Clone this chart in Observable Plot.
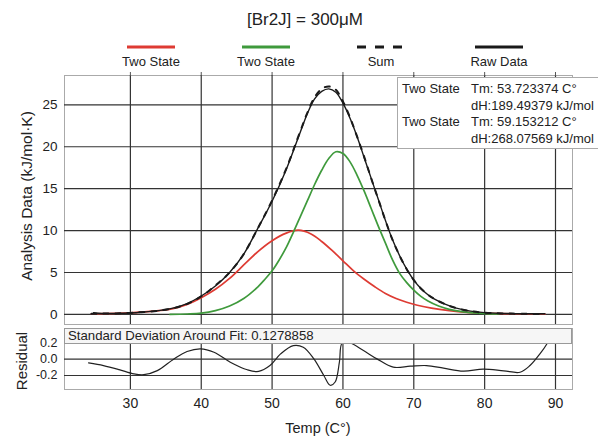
<!DOCTYPE html>
<html><head><meta charset="utf-8">
<script src="https://cdn.jsdelivr.net/npm/d3@7"></script>
<script src="https://cdn.jsdelivr.net/npm/@observablehq/plot@0.6"></script>
<style>
body{margin:0;background:#fff;font-family:"Liberation Sans",Arial,Helvetica,sans-serif;color:#222;}
#wrap{position:relative;width:598px;height:440px;overflow:hidden;}
.abs{position:absolute;white-space:nowrap;}
#main,#resid{position:absolute;left:0;}
#main{top:0;} #resid{top:324px;}
</style></head><body><div id="wrap">
<div id="main"></div><div id="resid"></div>
</div>
<script>
// ---- data ----
const title = "[Br2J] = 300\u03bcM";
const legendLabels = ["Two State", "Two State", "Sum", "Raw Data"];
const xTicks = [30, 40, 50, 60, 70, 80, 90];
const yTicks = [0, 5, 10, 15, 20, 25];
const residTicks = [-0.2, 0.0, 0.2];
const infoLines = [
  ["Two State", "Tm: 53.723374 C\u00b0"],
  ["", "dH:189.49379 kJ/mol"],
  ["Two State", "Tm: 59.153212 C\u00b0"],
  ["", "dH:268.07569 kJ/mol"]
];
const stdText = "Standard Deviation Around Fit: 0.1278858";

const redT = [24.5, 28, 30, 32, 34, 36, 38, 40, 42, 44, 46, 48, 50, 52, 53.7, 55.5, 57, 58.5, 60, 61.5, 63, 64.5, 66, 67.5, 69, 70.5, 72.5, 75, 77.5, 80, 84, 88.5];
const redV = [0.08, 0.12, 0.18, 0.3, 0.45, 0.7, 1.2, 2.0, 3.0, 4.3, 5.9, 7.5, 8.8, 9.7, 10.05, 9.6, 8.7, 7.6, 6.4, 5.2, 4.2, 3.3, 2.5, 1.9, 1.45, 1.1, 0.75, 0.45, 0.25, 0.15, 0.08, 0.05];

const greenT = [35.6, 38, 40, 42, 44, 46, 48, 49, 50, 51, 52, 53, 54, 55, 56, 57, 58, 59, 60, 61, 62, 63, 64, 65, 66, 67, 68, 69, 70, 71, 72, 73.5, 75, 77, 79, 82];
const greenV = [0, 0.05, 0.15, 0.45, 1.0, 1.9, 3.3, 4.2, 5.2, 6.5, 8.0, 9.8, 11.7, 13.6, 15.5, 17.2, 18.6, 19.4, 19.2, 18.2, 16.6, 14.7, 12.6, 10.5, 8.5, 6.5, 4.9, 3.8, 2.9, 2.15, 1.6, 1.0, 0.6, 0.3, 0.15, 0.05];

const rawT = [24.8, 26, 28, 30, 32, 34, 36, 38, 40, 42, 44, 46, 48, 50, 52, 54, 55, 56, 57, 58, 59, 60, 61, 62, 63, 64, 65, 66, 67, 68, 69, 70, 71, 72, 73, 74.5, 76, 78, 80, 84, 88.5];
const rawV = [0.2, 0.12, 0.12, 0.18, 0.3, 0.45, 0.75, 1.3, 2.2, 3.4, 5.0, 7.2, 10.3, 13.5, 17.3, 21.8, 24.0, 25.7, 26.6, 26.9, 26.5, 25.2, 23.4, 21.2, 18.7, 16.2, 13.7, 11.2, 8.9, 7.0, 5.4, 4.1, 3.1, 2.35, 1.8, 1.2, 0.75, 0.4, 0.22, 0.1, 0.08];

const sumT = [24.5, 26, 28, 30, 32, 34, 36, 38, 40, 42, 44, 46, 48, 50, 52, 54, 55, 56, 57, 58, 59, 60, 61, 62, 63, 64, 65, 66, 67, 68, 69, 70, 71, 72, 73, 74.5, 76, 78, 80, 84, 88.5];
const sumV = [0.08, 0.1, 0.12, 0.18, 0.3, 0.45, 0.72, 1.25, 2.15, 3.45, 5.0, 7.2, 10.3, 13.6, 17.4, 21.9, 24.1, 25.9, 26.9, 27.2, 26.8, 25.4, 23.5, 21.2, 18.8, 16.2, 13.7, 11.2, 8.9, 7.0, 5.4, 4.1, 3.1, 2.35, 1.8, 1.2, 0.75, 0.4, 0.2, 0.1, 0.05];

const resT = [24.1, 26.2, 28.4, 30.5, 31.9, 33.8, 36.1, 38.0, 39.9, 41.8, 44.1, 46.5, 48.1, 49.7, 51.2, 53.0, 54.4, 55.9, 57.3, 58.2, 58.9, 59.5, 59.9, 61.0, 62.9, 64.8, 67.1, 69.5, 71.8, 74.2, 77.0, 79.8, 82.7, 85.0, 86.4, 87.8, 88.8, 89.3];
const resV = [-0.045, -0.078, -0.127, -0.18, -0.19, -0.14, 0.0, 0.094, 0.127, 0.086, -0.037, -0.13, -0.15, -0.078, 0.065, 0.167, 0.147, 0.004, -0.2, -0.32, -0.28, -0.037, 0.2, 0.2, 0.106, 0.004, -0.098, -0.086, -0.078, -0.11, -0.147, -0.122, -0.143, -0.16, -0.078, 0.065, 0.19, 0.28];

const colors = ["#de3b33", "#3f9a3c", "#1a1a1a", "#1a1a1a"];

// ---- build ----
const rows = (T, V) => T.map((t, i) => ({T: t, V: V[i]}));
const FONT = '"Liberation Sans", Arial, Helvetica, sans-serif';
const xDomain = [20.7, 92.4];
const gridStyle = {stroke: "#333", strokeOpacity: 1, strokeWidth: 1.2};
const CURVE = "catmull-rom";

const main = Plot.plot({
  width: 598, height: 326,
  marginLeft: 64, marginRight: 26, marginTop: 75, marginBottom: 2,
  x: {domain: xDomain, axis: null},
  y: {domain: [-1.2, 28.5], axis: null},
  style: {fontFamily: FONT, fontSize: "13.5px", color: "#222", background: "transparent"},
  marks: [
    Plot.frame({stroke: "#aaa"}),
    Plot.gridX(xTicks, gridStyle),
    Plot.gridY(yTicks, gridStyle),
    Plot.axisY(yTicks, {tickSize: 0, tickPadding: 7, label: null}),
    Plot.axisX(xTicks, {anchor: "top", tickSize: 4, tickFormat: () => "", label: null, stroke: "#555"}),
    Plot.line(rows(redT, redV), {x: "T", y: "V", stroke: colors[0], strokeWidth: 1.7, curve: CURVE}),
    Plot.line(rows(greenT, greenV), {x: "T", y: "V", stroke: colors[1], strokeWidth: 1.7, curve: CURVE}),
    Plot.line(rows(rawT, rawV), {x: "T", y: "V", stroke: colors[3], strokeWidth: 1.4, curve: CURVE}),
    Plot.line(rows(sumT, sumV), {x: "T", y: "V", stroke: colors[2], strokeWidth: 2, strokeDasharray: "5,7", curve: CURVE})
  ]
});
document.getElementById("main").appendChild(main);

const resid = Plot.plot({
  width: 598, height: 116,
  marginLeft: 64, marginRight: 26, marginTop: 4, marginBottom: 51,
  x: {domain: xDomain, axis: null},
  y: {domain: [-0.372, 0.377], axis: null},
  style: {fontFamily: FONT, fontSize: "13.5px", color: "#222", background: "transparent"},
  marks: [
    Plot.frame({stroke: "#aaa"}),
    Plot.gridX(xTicks, gridStyle),
    Plot.gridY(residTicks, gridStyle),
    Plot.axisY(residTicks, {tickSize: 0, tickPadding: 7, label: null, tickFormat: d => d.toFixed(1), fontSize: 12.5}),
    Plot.axisX(xTicks, {tickSize: 0, tickPadding: 9, label: null, fontSize: 14}),
    Plot.line(rows(resT, resV), {x: "T", y: "V", stroke: "#222", strokeWidth: 1.2, curve: CURVE, clip: true})
  ]
});
document.getElementById("resid").appendChild(resid);

// ---- text overlays ----
const wrap = document.getElementById("wrap");
function addDiv(html, css) {
  const d = document.createElement("div");
  d.className = "abs";
  d.innerHTML = html;
  Object.assign(d.style, css);
  wrap.appendChild(d);
  return d;
}
addDiv(title, {left: "0px", width: "610px", top: "10px", textAlign: "center", fontSize: "17px"});

const legendX = [151, 266, 381, 499];
legendLabels.forEach((lab, i) => {
  const dash = i === 2 ? 'stroke-dasharray="9,9"' : "";
  addDiv(`<svg width="48" height="6"><line x1="0" y1="3" x2="48" y2="3" stroke="${colors[i]}" stroke-width="3" ${dash}/></svg>`,
    {left: (legendX[i] - 24) + "px", top: "44px", lineHeight: "0"});
  addDiv(lab, {left: (legendX[i] - 50) + "px", width: "100px", top: "54px", textAlign: "center", fontSize: "13px"});
});

const box = addDiv("", {left: "397px", top: "77px", width: "215px", height: "70px", border: "1px solid #aaa", background: "#fff", fontSize: "13px"});
infoLines.forEach((ln, i) => {
  const r = document.createElement("div");
  r.style.position = "absolute"; r.style.top = (3 + i * 16.5) + "px"; r.style.left = "4px";
  r.innerHTML = `<span style="display:inline-block;width:69px">${ln[0]}</span>${ln[1]}`;
  box.appendChild(r);
});

addDiv(stdText, {left: "64px", top: "328px", width: "503px", height: "14px", lineHeight: "14px", paddingLeft: "3px",
  border: "1px solid #999", background: "#f6f6f6", fontSize: "13.2px"});

addDiv("Analysis Data (kJ/mol\u00b7K)", {left: "27px", top: "196px", fontSize: "15.5px", transform: "translate(-50%,-50%) rotate(-90deg)"});
addDiv("Residual", {left: "21px", top: "361px", fontSize: "15px", transform: "translate(-50%,-50%) rotate(-90deg)"});
addDiv("Temp (C\u00b0)", {left: "318px", top: "428px", fontSize: "14.5px", transform: "translate(-50%,-50%)"});
</script>
</body></html>
